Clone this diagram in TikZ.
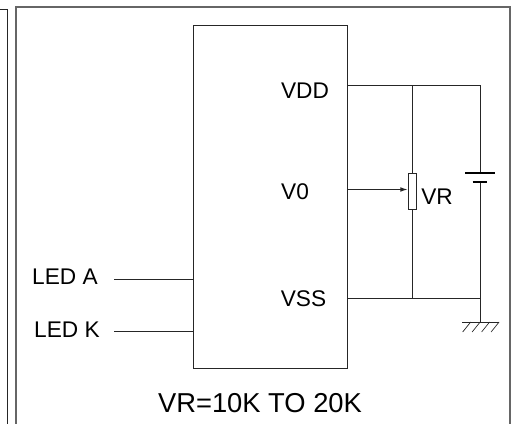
\documentclass[tikz,border=0pt]{standalone}
\usepackage{fontspec}
\setmainfont{Liberation Sans}
\usetikzlibrary{arrows.meta}
\tikzset{
  wire/.style={draw=black!85,line width=0.75pt},
  frame/.style={draw=black!60,line width=1.5pt},
  pinlabel/.style={font=\fontsize{17}{17}\selectfont,inner sep=0pt}
}
\begin{document}
\begin{tikzpicture}[x=0.75pt,y=-0.75pt]
  \useasboundingbox (0,0) rectangle (517,424);
  \coordinate (oldtl) at (0,9.5);
  \coordinate (oldtr) at (7.5,9.5);
  \coordinate (oldbr) at (7.5,424);
  \coordinate (frametl) at (15.5,7.5);
  \coordinate (frametr) at (510,7.5);
  \coordinate (framebl) at (15.5,424);
  \coordinate (framebr) at (510,424);
  \draw[wire] (oldtl) -- (oldtr) -- (oldbr);
  \draw[frame] (framebl) -- (frametl) -- (frametr) -- (framebr);
  \node[draw=black!85,line width=0.75pt,minimum width=115.5pt,minimum height=256.5pt,inner sep=0pt] (ic) at (270.5,197) {};
  \node[pinlabel] (vdd) at (305,91) {VDD};
  \node[pinlabel] (vzero) at (295,192) {V0};
  \node[pinlabel] (vss) at (303.5,298.5) {VSS};
  \node[pinlabel] (leda) at (65,276.5) {LED A};
  \node[pinlabel] (ledk) at (67,329.5) {LED K};
  \node[pinlabel] (vrlabel) at (437,197) {VR};
  \node[font=\fontsize{20.5}{20.5}\selectfont,inner sep=0pt] (note) at (260,403) {VR=10K TO 20K};
  \node[draw=black!85,fill=white,line width=0.75pt,minimum width=6.5pt,minimum height=27pt,inner sep=0pt] (pot) at (412.5,191) {};
  \coordinate (vddpin) at (ic.east |- 0,86);
  \coordinate (vzeropin) at (ic.east |- 0,189.5);
  \coordinate (vsspin) at (ic.east |- 0,298);
  \coordinate (ledapin) at (ic.west |- 0,279);
  \coordinate (ledkpin) at (ic.west |- 0,331.5);
  \coordinate (ledastart) at (114,279);
  \coordinate (ledkstart) at (114,331.5);
  \coordinate (vddtap) at (412.5,86);
  \coordinate (vsstap) at (412.5,298);
  \coordinate (vddcorner) at (480,86);
  \coordinate (vssjoin) at (480,298);
  \coordinate (plateone) at (480,173);
  \coordinate (platetwo) at (480,182);
  \coordinate (gnd) at (480,322);
  \draw[wire] (vddpin) -- (vddcorner) -- (plateone);
  \draw[wire] (platetwo) -- (gnd);
  \draw[wire] (vsspin) -- (vssjoin);
  \draw[wire] (vddtap) -- (pot.north);
  \draw[wire] (pot.south) -- (vsstap);
  \draw[wire,-{Latex[length=5.5pt,width=3.5pt]}] (vzeropin) -- (pot.west |- vzeropin);
  \draw[wire] (ledastart) -- (ledapin);
  \draw[wire] (ledkstart) -- (ledkpin);
  % battery plates
  \draw[black,line width=1.6pt] ([xshift=-11pt]plateone) -- ([xshift=11pt]plateone);
  \draw[black,line width=1.6pt] ([xshift=-5.5pt]platetwo) -- ([xshift=5.5pt]platetwo);
  % ground
  \draw[wire] ([xshift=-13.5pt]gnd) -- ([xshift=14.5pt]gnd);
  \foreach \i in {0,1,2,3}
    \draw[black!85,line width=0.5pt] ([xshift=-7pt+\i*7.1pt]gnd) -- ([xshift=-13pt+\i*7.1pt,yshift=-7.5pt]gnd);
\end{tikzpicture}
\end{document}
